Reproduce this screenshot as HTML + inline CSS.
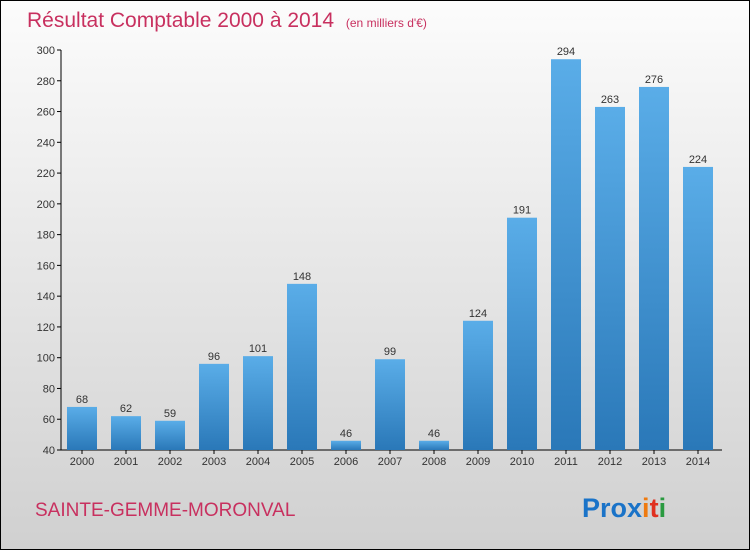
<!DOCTYPE html>
<html><head><meta charset="utf-8"><style>
body{margin:0}
#c{width:750px;height:550px;position:relative;font-family:"Liberation Sans",sans-serif}
</style></head><body>
<div id="c">
<svg id="s" width="750" height="550" xmlns="http://www.w3.org/2000/svg">
<defs>
<linearGradient id="bg" x1="0" y1="0" x2="0" y2="1"><stop offset="0" stop-color="#fcfcfc"/><stop offset="1" stop-color="#d0d0d0"/></linearGradient>
<linearGradient id="bar" x1="0" y1="0" x2="0" y2="1"><stop offset="0" stop-color="#5aade8"/><stop offset="1" stop-color="#2a78b8"/></linearGradient>
</defs>
<rect x="0.5" y="0.5" width="749" height="549" fill="url(#bg)" stroke="#000"/>
<text x="27" y="27" font-size="21" fill="#c8305f">Résultat Comptable 2000 à 2014 <tspan font-size="12" dx="6">(en milliers d'€)</tspan></text>
<text x="35" y="516" font-size="19" fill="#c8305f">SAINTE-GEMME-MORONVAL</text>
<text x="582" y="517" font-size="27" font-weight="bold"><tspan fill="#1a73c8">Pro</tspan><tspan fill="#1a73c8">x</tspan><tspan fill="#ee7a10">i</tspan><tspan fill="#e03020">t</tspan><tspan fill="#2a9a40">i</tspan></text>
<g id="axes"></g><g id="bars"></g>
</svg>
</div>
<script>
const years=["2000","2001","2002","2003","2004","2005","2006","2007","2008","2009","2010","2011","2012","2013","2014"];
const values=[68,62,59,96,101,148,46,99,46,124,191,294,263,276,224];
const yTicks=[40,60,80,100,120,140,160,180,200,220,240,260,280,300];
const NS="http://www.w3.org/2000/svg";
const yMin=40,yMax=300,yTop=50,yBot=450;
function y(v){return yBot-(v-yMin)/(yMax-yMin)*(yBot-yTop);}
function x(i){return 82+i*44;}
function mk(t,a,p){const e=document.createElementNS(NS,t);for(const k in a)e.setAttribute(k,a[k]);p.appendChild(e);return e;}
const ax=document.getElementById('axes'),bg=document.getElementById('bars');
const yl=mk('line',{x1:61,y1:yTop,x2:61,y2:yBot,stroke:'#000'},ax);


const xl=mk('line',{x1:61,y1:yBot,x2:722,y2:yBot,stroke:'#000'},ax);


yTicks.forEach(v=>{
 mk('line',{x1:57,x2:61,y1:y(v),y2:y(v),stroke:'#000'},ax);
 const t=mk('text',{x:55,y:y(v)+4,'text-anchor':'end','font-size':11,fill:'#333'},ax);
 t.textContent=v;
 
 
});
years.forEach((yr,i)=>{
 const v=values[i];
 const r=mk('rect',{x:x(i)-15,y:y(v),width:30,height:yBot-y(v),fill:'url(#bar)'},bg);
 
 
 mk('line',{x1:x(i),x2:x(i),y1:yBot,y2:yBot+4,stroke:'#000'},ax);
 const t=mk('text',{x:x(i),y:465,'text-anchor':'middle','font-size':11,fill:'#333'},ax);
 t.textContent=yr;
 
 
 const l=mk('text',{x:x(i),y:y(v)-4,'text-anchor':'middle','font-size':11,fill:'#333'},bg);
 l.textContent=v;
 
 
});
</script>
</body></html>
